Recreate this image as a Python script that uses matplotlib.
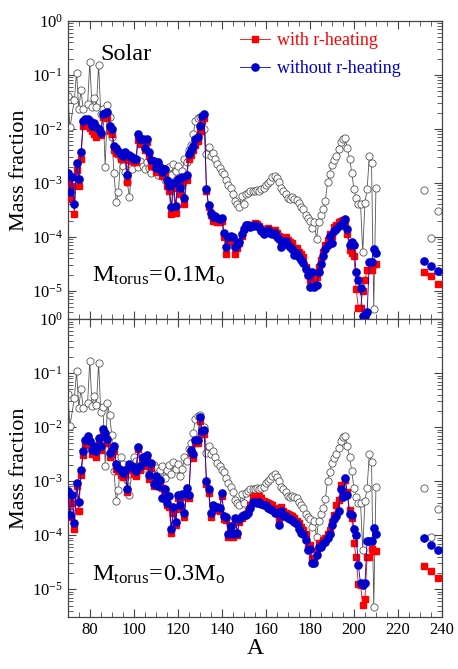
import numpy as np
import matplotlib.pyplot as plt
from matplotlib.ticker import MultipleLocator, LogLocator, NullFormatter

plt.rcParams['font.family'] = ['Liberation Serif', 'DejaVu Serif']
plt.rcParams['mathtext.fontset'] = 'custom'
plt.rcParams['mathtext.rm'] = 'Liberation Serif'
plt.rcParams['mathtext.it'] = 'Liberation Serif:italic'
plt.rcParams['axes.unicode_minus'] = False

# ---- data (log10 of mass fraction) ----
# solar r-process pattern (same in both panels)
A_solar = [70, 71, 73, 74, 75, 76, 77, 79, 80, 81, 82, 83, 84, 85, 86, 87, 88, 89, 90,
           91, 92, 93, 94, 95, 96, 97, 98, 99, 100, 101, 102, 103, 104, 105, 106, 107,
           108, 109, 110, 111, 112, 113, 114, 115, 116, 117, 118, 119, 120, 121, 122,
           123, 124, 125, 126, 127, 128, 129, 130, 131, 132, 133, 134, 135, 136, 137,
           138, 139, 140, 141, 142, 143, 144, 145, 146, 147, 148, 149, 150, 151, 152,
           153, 154, 155, 156, 157, 158, 159, 160, 161, 162, 163, 164, 165, 166, 167,
           168, 169, 170, 171, 172, 173, 174, 175, 176, 177, 178, 179, 180, 181, 182,
           183, 184, 185, 186, 187, 188, 189, 190, 191, 192, 193, 194, 195, 196, 197,
           198, 199, 200, 201, 202, 203, 204, 205, 206, 207, 208, 209, 210]
solar_log = [-1.39, -1.97, -1.46, -0.96, -1.64, -1.29, -1.64, -1.55, -0.77, -1.60, -1.43,
             -1.59, -0.82, -1.72, -1.63, -2.71, -1.56, -1.78, -2.15, -2.82, -3.36, -3.17,
             -2.55, -2.68, -2.80, -2.98, -3.26, -2.75, -2.55, -2.62, -2.70, -2.60, -2.68,
             -2.75, -2.62, -2.72, -2.82, -2.70, -2.75, -2.85, -2.80, -2.72, -2.95, -2.80,
             -2.70, -2.86, -2.65, -2.78, -2.68, -2.90, -2.78, -2.55, -2.62, -2.40, -2.30,
             -2.10, -1.85, -1.80, -1.78, -2.05, -2.00, -2.47, -2.34, -2.50, -2.45, -2.55,
             -2.66, -2.72, -2.80, -2.83, -2.95, -3.04, -3.10, -3.20, -3.34, -3.40, -3.44,
             -3.24, -3.40, -3.21, -3.18, -3.15, -3.15, -3.15, -3.13, -3.15, -3.12, -3.10,
             -3.04, -3.00, -2.96, -2.90, -2.87, -2.92, -2.99, -3.10, -3.15, -3.20, -3.28,
             -3.30, -3.27, -3.30, -3.32, -3.38, -3.45, -3.49, -3.60, -3.66, -3.70, -3.84,
             -3.73, -4.04, -3.73, -3.60, -3.49, -3.33, -2.99, -2.83, -2.67, -2.58, -2.50,
             -2.38, -2.25, -2.19, -2.17, -2.35, -2.55, -2.81, -3.12, -3.29, -3.40, -3.40,
             -4.28, -3.37, -3.12, -2.50, -2.64, -5.33, -3.10]
A_act = [232, 235, 238]
solar_act_log = [-3.13, -4.03, -3.52]

A_model = list(range(70, 211))

# M_torus = 0.1 Mo
with01_log = [-2.96, -3.30, -3.05, -3.58, -2.76, -3.06, -2.55, -1.95, -1.92, -1.90,
              -1.98, -2.05, -2.10, -2.15, -2.05, -2.12, -1.78, -1.72, -1.80, -2.05,
              -2.10, -2.40, -2.45, -2.47, -2.55, -2.52, -2.55, -2.98, -2.57, -2.60,
              -2.62, -2.62, -2.20, -2.28, -2.25, -2.40, -2.25, -2.50, -2.68, -2.68,
              -2.80, -2.70, -2.78, -2.88, -2.80, -3.05, -3.15, -3.58, -3.10, -3.55,
              -3.02, -3.20, -3.00, -3.40, -2.95, -2.55, -2.48, -2.40, -2.30, -2.22,
              -2.05, -1.85, -1.80, -3.15, -3.45, -3.60, -3.70, -3.70, -3.72, -3.72,
              -3.70, -4.00, -4.31, -4.10, -4.05, -4.08, -4.31, -4.20, -4.12, -3.98,
              -3.85, -3.80, -3.78, -3.80, -3.78, -3.75, -3.76, -3.80, -3.85, -3.90,
              -3.85, -3.83, -3.88, -3.90, -3.88, -3.92, -3.98, -4.10, -4.02, -4.00,
              -4.05, -4.10, -4.12, -4.22, -4.20, -4.28, -4.32, -4.38, -4.55, -4.70,
              -4.80, -4.72, -4.85, -4.75, -4.55, -4.42, -4.28, -4.15, -4.05, -3.95,
              -3.98, -3.82, -3.78, -3.72, -3.70, -3.68, -3.72, -3.95, -4.25, -4.30,
              -4.35, -4.96, -5.31, -5.31, -5.00, -4.80, -4.62, -4.62, -4.62, -4.50,
              -4.50]
without01_log = [-2.82, -3.17, -2.90, -3.40, -2.64, -2.93, -2.43, -1.85, -1.82, -1.82,
                 -1.86, -1.95, -1.90, -1.97, -2.01, -2.07, -1.72, -1.70, -1.68, -1.95,
                 -2.01, -2.31, -2.36, -2.41, -2.46, -2.50, -2.43, -2.86, -2.49, -2.52,
                 -2.55, -2.55, -2.10, -2.19, -2.18, -2.35, -2.18, -2.43, -2.58, -2.60,
                 -2.72, -2.62, -2.70, -2.80, -2.75, -2.95, -3.05, -3.44, -3.01, -3.43,
                 -2.93, -3.10, -2.90, -3.29, -2.85, -2.47, -2.40, -2.31, -2.19, -2.15,
                 -1.94, -1.76, -1.72, -3.12, -3.41, -3.55, -3.64, -3.62, -3.66, -3.67,
                 -3.65, -3.93, -4.19, -4.00, -3.98, -4.00, -4.19, -4.15, -4.10, -3.95,
                 -3.85, -3.79, -3.79, -3.82, -3.80, -3.78, -3.80, -3.82, -3.90, -3.95,
                 -3.90, -3.88, -3.92, -3.95, -3.93, -4.00, -4.04, -4.19, -4.10, -4.08,
                 -4.15, -4.18, -4.22, -4.33, -4.30, -4.38, -4.42, -4.48, -4.60, -4.70,
                 -4.93, -4.66, -4.93, -4.90, -4.66, -4.50, -4.36, -4.22, -4.15, -3.99,
                 -4.11, -3.90, -3.85, -3.80, -3.78, -3.72, -3.67, -3.85, -4.16, -4.10,
                 -4.16, -4.66, -4.80, -4.95, -5.46, -5.46, -5.40, -4.46, -4.46, -4.22,
                 -4.29]
with01_act_log = [-4.65, -4.73, -4.87]
without01_act_log = [-4.44, -4.54, -4.64]

# M_torus = 0.3 Mo
with03_log = [-3.29, -3.66, -3.40, -3.89, -3.08, -3.55, -2.88, -2.52, -2.33, -2.25,
              -2.33, -2.50, -2.45, -2.56, -2.29, -2.42, -2.13, -2.18, -2.30, -2.55,
              -2.50, -2.45, -2.78, -2.82, -2.88, -2.93, -2.88, -3.20, -2.76, -2.80,
              -2.86, -2.90, -2.40, -2.80, -2.64, -2.72, -2.60, -2.96, -2.75, -3.08,
              -2.98, -3.06, -3.05, -3.12, -3.18, -3.45, -3.48, -3.95, -3.58, -3.82,
              -3.32, -3.52, -3.30, -3.66, -3.20, -3.32, -2.48, -2.58, -2.30, -2.30,
              -1.88, -2.13, -2.12, -3.05, -3.22, -3.66, -3.50, -3.52, -3.54, -3.56,
              -3.28, -3.70, -3.72, -4.04, -3.88, -4.04, -3.73, -4.00, -3.75, -3.68,
              -3.62, -3.60, -3.55, -3.45, -3.30, -3.27, -3.30, -3.28, -3.32, -3.36,
              -3.38, -3.41, -3.43, -3.45, -3.50, -3.52, -3.72, -3.48, -3.56, -3.58,
              -3.60, -3.62, -3.64, -3.68, -3.73, -3.78, -3.85, -3.90, -3.98, -4.23,
              -4.18, -4.43, -4.43, -4.30, -4.15, -4.15, -4.08, -4.05, -3.98, -3.90,
              -3.76, -3.62, -3.45, -3.35, -3.07, -3.20, -2.98, -3.20, -3.53, -3.68,
              -4.14, -4.41, -4.90, -4.92, -5.29, -5.18, -4.41, -4.41, -4.26, -4.30,
              -4.30]
without03_log = [-3.19, -3.62, -3.25, -3.77, -3.03, -3.38, -2.79, -2.45, -2.24, -2.16,
                 -2.25, -2.42, -2.35, -2.45, -2.20, -2.35, -2.04, -2.10, -2.22, -2.48,
                 -2.42, -2.35, -2.68, -2.75, -2.80, -2.85, -2.80, -3.14, -2.68, -2.72,
                 -2.78, -2.82, -2.36, -2.72, -2.56, -2.65, -2.52, -2.89, -2.66, -3.05,
                 -2.91, -3.09, -2.98, -3.31, -3.14, -3.40, -3.27, -3.88, -3.48, -3.75,
                 -3.26, -3.45, -3.24, -3.59, -3.13, -3.25, -2.42, -2.50, -2.24, -2.24,
                 -1.82, -2.07, -2.05, -2.99, -3.14, -3.59, -3.44, -3.47, -3.48, -3.50,
                 -3.22, -3.64, -3.66, -3.97, -3.83, -3.97, -3.68, -3.95, -3.70, -3.65,
                 -3.62, -3.62, -3.59, -3.50, -3.39, -3.38, -3.40, -3.38, -3.42, -3.45,
                 -3.45, -3.50, -3.52, -3.53, -3.58, -3.59, -3.82, -3.55, -3.65, -3.65,
                 -3.68, -3.70, -3.72, -3.75, -3.80, -3.88, -3.95, -3.98, -4.08, -4.28,
                 -4.25, -4.52, -4.52, -4.37, -4.22, -4.22, -4.15, -4.12, -4.05, -3.97,
                 -3.82, -3.70, -3.64, -3.55, -3.14, -3.30, -2.95, -3.25, -3.60, -3.62,
                 -3.88, -4.00, -4.56, -4.89, -4.92, -4.89, -4.10, -4.10, -4.10, -3.87,
                 -3.98]
with03_act_log = [-4.57, -4.66, -4.80]
without03_act_log = [-4.06, -4.19, -4.28]

panels = [
    (with01_log, without01_log, with01_act_log, without01_act_log, '0.1'),
    (with03_log, without03_log, with03_act_log, without03_act_log, '0.3'),
]

fig = plt.figure(figsize=(4.58, 6.69), dpi=100)
gs = fig.add_gridspec(2, 1, left=0.148, right=0.965, top=0.969, bottom=0.077, hspace=0)
axes = [fig.add_subplot(gs[0]), fig.add_subplot(gs[1])]

for ax, (w_log, wo_log, w_act, wo_act, mt) in zip(axes, panels):
    # solar
    ax.plot(A_solar, 10.0 ** np.array(solar_log), '-o', color='#555555', lw=0.6,
            mfc='white', mec='#555555', ms=5.2, mew=0.6, zorder=2)
    ax.plot(A_act, 10.0 ** np.array(solar_act_log), 'o', mfc='white', mec='#555555',
            ms=5.2, mew=0.6, zorder=2)
    # with r-heating
    ax.plot(A_model, 10.0 ** np.array(w_log), '-s', color='#ff0000', lw=0.6, ms=5.0,
            mec='#ff0000', label='with r-heating', zorder=3)
    ax.plot(A_act, 10.0 ** np.array(w_act), 's', color='#ff0000', ms=5.0, zorder=3)
    # without r-heating
    ax.plot(A_model, 10.0 ** np.array(wo_log), '-o', color='#0000cc', lw=0.6, ms=5.2,
            mec='#0000cc', label='without r-heating', zorder=4)
    ax.plot(A_act, 10.0 ** np.array(wo_act), 'o', color='#0000cc', ms=5.2, zorder=4)

    ax.set_yscale('log')
    ax.set_xlim(70, 240)
    ax.set_ylim(3.0e-6, 1.0)
    ax.xaxis.set_major_locator(MultipleLocator(20))
    ax.xaxis.set_minor_locator(MultipleLocator(5))
    ax.yaxis.set_major_locator(LogLocator(base=10, numticks=10))
    ax.yaxis.set_minor_locator(LogLocator(base=10, subs=np.arange(2, 10), numticks=10))
    ax.yaxis.set_minor_formatter(NullFormatter())
    ax.tick_params(which='both', direction='in', top=True, right=True, labelsize=12,
                   color='#444444')
    ax.tick_params(which='major', length=6)
    ax.tick_params(which='minor', length=3.5)
    for sp in ax.spines.values():
        sp.set_color('#444444')
        sp.set_linewidth(0.9)
    ax.set_ylabel('Mass fraction', fontsize=16, labelpad=2)

    ax.text(0.066, 0.124, r'$\mathregular{M_{torus}\!=\!%sM_o}$' % mt,
            transform=ax.transAxes, fontsize=17.5, va='baseline')

axes[0].tick_params(labelbottom=False)
axes[0].text(0.086, 0.868, 'Solar', transform=axes[0].transAxes, fontsize=17.5,
             va='baseline')
axes[1].set_xlabel('A', fontsize=17, labelpad=0)

leg = axes[0].legend(loc='upper left', bbox_to_anchor=(0.44, 0.985), frameon=False,
                     fontsize=13, handlelength=1.7, handletextpad=0.35,
                     labelspacing=0.6, borderaxespad=0)
for txt, c in zip(leg.get_texts(), ['#ff0000', '#0000cc']):
    txt.set_color(c)

fig.savefig('out.png', dpi=100)
